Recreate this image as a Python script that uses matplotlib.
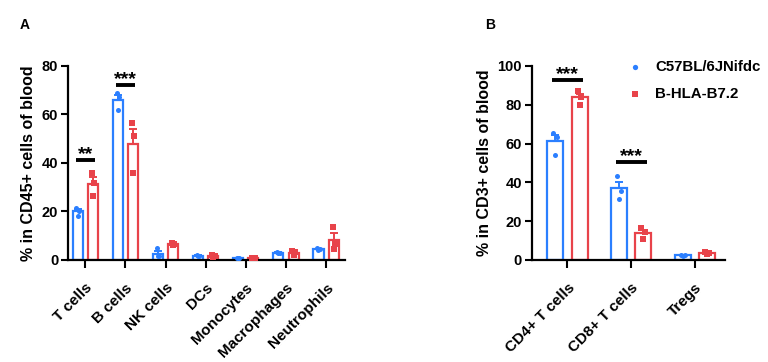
import numpy as np
import matplotlib
matplotlib.use("Agg")
import matplotlib.pyplot as plt

plt.rcParams['font.family'] = ['Liberation Sans', 'DejaVu Sans']
plt.rcParams['font.weight'] = 'bold'

BLUE = '#2b7fff'
RED = '#e8434a'

groups = ['C57BL/6JNifdc', 'B-HLA-B7.2']

# Panel A
cats_a = ['T cells', 'B cells', 'NK cells', 'DCs', 'Monocytes', 'Macrophages', 'Neutrophils']
a_blue = [[21.6, 20.3, 18.1], [68.7, 67.3, 61.9], [4.8, 1.5, 1.5], [2.0, 1.8, 1.6],
          [0.9, 0.8, 0.7], [3.2, 3.0, 2.8], [4.8, 4.5, 4.2]]
a_red = [[35.7, 31.9, 26.4], [56.6, 51.1, 36.0], [6.9, 6.4, 6.1], [1.9, 1.6, 1.4],
         [1.0, 0.9, 0.8], [3.8, 3.2, 2.0], [13.8, 6.5, 4.5]]
sig_a = [(0, '**', 41.2), (1, '***', 72.2)]

# Panel B
cats_b = ['CD4+ T cells', 'CD8+ T cells', 'Tregs']
b_blue = [[65.6, 63.6, 54.0], [43.5, 35.7, 31.4], [2.8, 2.6, 2.3]]
b_red = [[87.0, 84.2, 80.1], [16.3, 14.3, 10.7], [3.9, 3.5, 3.2]]
sig_b = [(0, '***', 92.8), (1, '***', 50.3)]

fig = plt.figure(figsize=(7.68, 3.62), dpi=100)


def panel(ax, cats, blue, red, sigs, ymax, step, ylabel, xlim):
    x = np.arange(len(cats))
    off = 0.19
    w = 0.25
    for vals, col, sign, mk in [(blue, BLUE, -1, 'o'), (red, RED, 1, 's')]:
        vals = np.array(vals)
        m = vals.mean(axis=1)
        sem = vals.std(axis=1, ddof=1) / np.sqrt(vals.shape[1])
        xp = x + sign * off
        ax.bar(xp, m, width=w, facecolor='white', edgecolor=col, linewidth=1.6, zorder=2)
        ax.errorbar(xp, m, yerr=[np.zeros_like(sem), sem], fmt='none', ecolor=col,
                    elinewidth=1.4, capsize=3, capthick=1.4, zorder=3)
        for i in range(len(cats)):
            ax.scatter(np.full(3, xp[i]) + np.array([-0.03, 0.03, 0.0]), vals[i], s=13,
                       marker=mk, color=col, zorder=4, linewidths=0)
    for i, txt, y in sigs:
        ax.plot([i - off - 0.05, i + off + 0.05], [y, y], color='black', lw=2.8,
                solid_capstyle='butt', zorder=5)
        ax.text(i, y + 0.5 * ymax / 80, txt, ha='center', va='baseline', fontsize=14,
                fontweight='bold')
    ax.set_xlim(*xlim)
    ax.set_ylim(0, ymax)
    ax.set_yticks(np.arange(0, ymax + 1, step))
    ax.set_xticks(x)
    ax.set_xticklabels(cats, rotation=45, ha='right', rotation_mode='anchor',
                       fontsize=11, fontweight='bold')
    ax.tick_params(axis='y', width=1.5, length=5, labelsize=10.5, pad=2)
    ax.tick_params(axis='x', width=1.5, length=6, pad=9)
    for lab in ax.get_yticklabels():
        lab.set_fontweight('bold')
    for s in ['top', 'right']:
        ax.spines[s].set_visible(False)
    for s in ['left', 'bottom']:
        ax.spines[s].set_linewidth(1.6)
    ax.set_ylabel(ylabel, fontsize=11.5, fontweight='bold', labelpad=4)


axA = fig.add_axes([0.0885, 0.2818, 0.3607, 0.536])
panel(axA, cats_a, a_blue, a_red, sig_a, 80, 20, '% in CD45+ cells of blood', (-0.43, 6.47))

axB = fig.add_axes([0.6923, 0.2818, 0.2517, 0.536])
panel(axB, cats_b, b_blue, b_red, sig_b, 100, 20, '% in CD3+ cells of blood', (-0.56, 2.47))

# Legend (manual, figure coordinates)
W, H = 768.0, 362.0
for (lab, col, mk, ypx) in [(groups[0], BLUE, 'o', 66.7), (groups[1], RED, 's', 94.0)]:
    fig.add_artist(plt.Line2D([635 / W], [1 - ypx / H], marker=mk, markersize=3.8,
                              color=col, markeredgewidth=0, linestyle='none',
                              transform=fig.transFigure))
    fig.text(655 / W, 1 - ypx / H, lab, fontsize=10.8, fontweight='bold',
             va='center', ha='left')

fig.text(0.025, 0.931, 'A', fontsize=10, fontweight='bold', va='center', ha='left')
fig.text(0.632, 0.931, 'B', fontsize=10, fontweight='bold', va='center', ha='left')

fig.savefig('out.png', dpi=100)
